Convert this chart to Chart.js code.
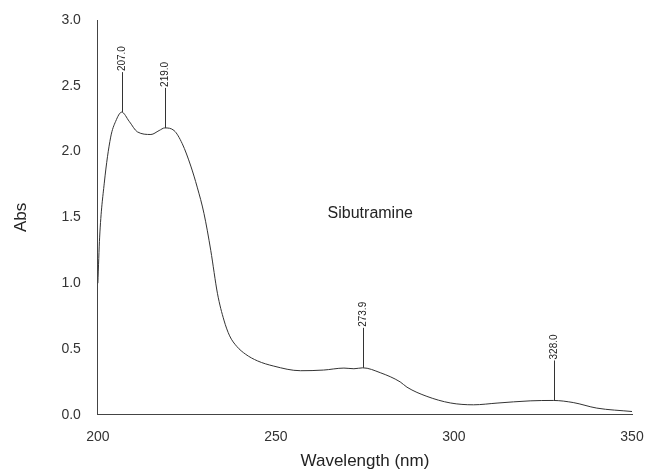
<!DOCTYPE html>
<html>
<head>
<meta charset="utf-8">
<script src="https://cdn.jsdelivr.net/npm/chart.js@4"></script>
<style>
  html, body { margin: 0; padding: 0; background: #fff; }
  #wrap { width: 647px; height: 472px; }
</style>
</head>
<body>
<div id="wrap"><canvas id="myChart"></canvas></div>
<script>
// spectrum
const wavelength = [200.0, 200.5, 201.8, 203.6, 205.0, 206.7, 208.8, 211.1, 214.9, 217.2, 218.8,
  221.4, 223.7, 226.1, 227.9, 229.8, 231.7, 233.6, 235.4, 237.0, 239.0, 241.5, 244.8, 249.4,
  256.9, 263.4, 269.1, 271.9, 274.4, 279.3, 284.9, 286.8, 292.4, 299.0, 305.5, 312.1, 321.4,
  327.9, 333.5, 340.1, 350.0];
const absorbance = [1.0, 1.35, 1.76, 2.11, 2.23, 2.30, 2.23, 2.15, 2.13, 2.16, 2.18,
  2.16, 2.06, 1.89, 1.73, 1.53, 1.25, 0.92, 0.72, 0.60, 0.52, 0.46, 0.41, 0.37,
  0.335, 0.34, 0.355, 0.35, 0.357, 0.32, 0.25, 0.21, 0.14, 0.09, 0.076, 0.089, 0.106,
  0.109, 0.093, 0.051, 0.025];

// labelled peaks
const peakLabels = ["207.0", "219.0", "273.9", "328.0"];
const peakX = [206.7, 218.8, 274.4, 328.0];
const peakY = [2.30, 2.18, 0.357, 0.109];

const xTicks = [200, 250, 300, 350];
const yTicks = [0, 0.5, 1.0, 1.5, 2.0, 2.5, 3.0];
const compoundName = "Sibutramine";
const namePos = { x: 276.5, y: 1.53 };

const ctx = document.getElementById("myChart").getContext("2d");

const peakPlugin = {
  id: "peaks",
  afterDatasetsDraw(chart) {
    const { ctx, scales } = chart;
    ctx.save();
    ctx.strokeStyle = "#333";
    ctx.lineWidth = 1;
    ctx.fillStyle = "#222";
    ctx.font = "10px 'Liberation Sans', Arial, sans-serif";
    peakLabels.forEach((label, i) => {
      const px = Math.round(scales.x.getPixelForValue(peakX[i])) + 0.5;
      const py = scales.y.getPixelForValue(peakY[i]);
      ctx.beginPath();
      ctx.moveTo(px, py);
      ctx.lineTo(px, py - 40);
      ctx.stroke();
      ctx.save();
      ctx.translate(px, py - 41);
      ctx.rotate(-Math.PI / 2);
      ctx.textAlign = "left";
      ctx.textBaseline = "middle";
      ctx.fillText(label, 0, 0);
      ctx.restore();
    });
    ctx.fillStyle = "#222";
    ctx.font = "16px 'Liberation Sans', Arial, sans-serif";
    ctx.textAlign = "center";
    ctx.textBaseline = "middle";
    ctx.fillText(compoundName, scales.x.getPixelForValue(namePos.x), scales.y.getPixelForValue(namePos.y));
    ctx.restore();
  },
};

const myChart = new Chart(ctx, {
  type: "line",
  data: {
    datasets: [
      {
        data: wavelength.map((w, i) => ({ x: w, y: absorbance[i] })),
        borderColor: "#333",
        borderWidth: 1,
        pointRadius: 0,
        fill: false,
        cubicInterpolationMode: "monotone",
      },
    ],
  },
  options: {
    responsive: true,
    maintainAspectRatio: false,
    animation: false,
    layout: { padding: { left: 11, right: 0, top: 20, bottom: 0 } },
    plugins: { legend: { display: false }, tooltip: { enabled: false } },
    scales: {
      x: {
        type: "linear",
        min: 200,
        max: 350,
        afterBuildTicks: (axis) => { axis.ticks = xTicks.map((v) => ({ value: v })); },
        afterFit: (axis) => { axis.paddingRight = 15; },
        grid: { display: false, drawOnChartArea: false, drawTicks: true, tickLength: 6, color: "#444" },
        border: { display: true, color: "#444", width: 1 },
        ticks: { color: "#333", font: { family: "'Liberation Sans', Arial", size: 14 }, padding: 8, maxRotation: 0 },
        title: { display: true, text: "Wavelength (nm)", color: "#222", font: { family: "'Liberation Sans', Arial", size: 17 }, padding: { top: -2, bottom: 0 } },
      },
      y: {
        min: 0,
        max: 3.0,
        afterBuildTicks: (axis) => { axis.ticks = yTicks.map((v) => ({ value: v })); },
        grid: { display: false, drawOnChartArea: false, drawTicks: true, tickLength: 6, color: "#444" },
        border: { display: true, color: "#444", width: 1 },
        ticks: { color: "#333", font: { family: "'Liberation Sans', Arial", size: 14 }, padding: 11, callback: (v) => v.toFixed(1) },
        title: { display: true, text: "Abs", color: "#222", font: { family: "'Liberation Sans', Arial", size: 17 }, padding: { top: 0, bottom: 19 } },
      },
    },
  },
  plugins: [peakPlugin],
});
</script>
</body>
</html>
